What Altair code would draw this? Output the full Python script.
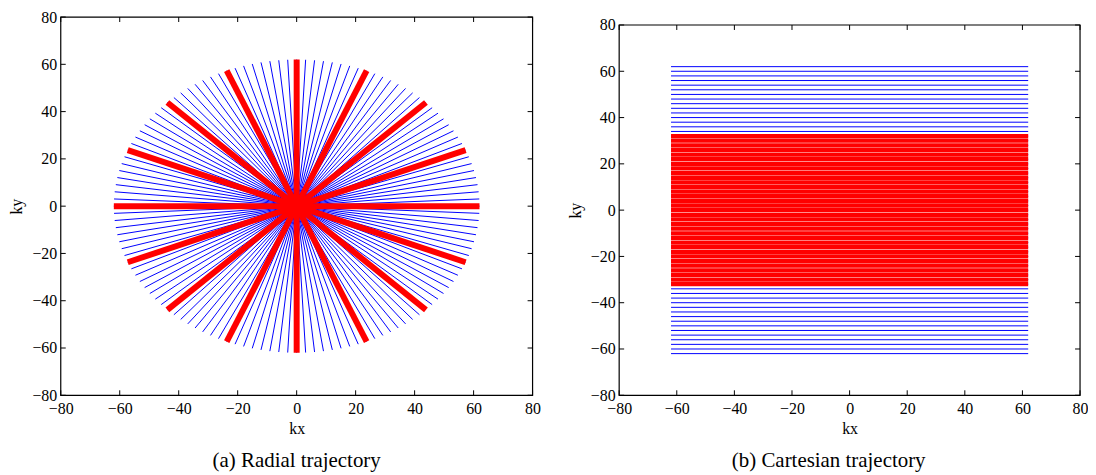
import altair as alt
import pandas as pd

# ---------------- data ----------------
RADIUS = 62
# blue spokes (full lines through the centre), angle in degrees
blue_angles = [0, 2.8125, 5.625, 8.4375, 11.25, 14.0625, 16.875, 19.6875,
               22.5, 25.3125, 28.125, 30.9375, 33.75, 36.5625, 39.375, 42.1875,
               45, 47.8125, 50.625, 53.4375, 56.25, 59.0625, 61.875, 64.6875,
               67.5, 70.3125, 73.125, 75.9375, 78.75, 81.5625, 84.375, 87.1875,
               90, 92.8125, 95.625, 98.4375, 101.25, 104.0625, 106.875, 109.6875,
               112.5, 115.3125, 118.125, 120.9375, 123.75, 126.5625, 129.375, 132.1875,
               135, 137.8125, 140.625, 143.4375, 146.25, 149.0625, 151.875, 154.6875,
               157.5, 160.3125, 163.125, 165.9375, 168.75, 171.5625, 174.375, 177.1875]
# red (highlighted) spokes
red_angles = [0, 22.5, 45, 67.5, 90, 112.5, 135, 157.5]

# cartesian rows
blue_rows = [-62, -60, -58, -56, -54, -52, -50, -48, -46, -44, -42, -40, -38, -36, -34, -32,
             -30, -28, -26, -24, -22, -20, -18, -16, -14, -12, -10, -8, -6, -4, -2, 0,
             2, 4, 6, 8, 10, 12, 14, 16, 18, 20, 22, 24, 26, 28, 30, 32,
             34, 36, 38, 40, 42, 44, 46, 48, 50, 52, 54, 56, 58, 60, 62]
red_rows = [-32, -30, -28, -26, -24, -22, -20, -18, -16, -14, -12, -10, -8, -6, -4, -2, 0,
            2, 4, 6, 8, 10, 12, 14, 16, 18, 20, 22, 24, 26, 28, 30, 32]
row_start = -62
row_end = 62

tick_values = [-80, -60, -40, -20, 0, 20, 40, 60, 80]
captions = ["(a) Radial trajectory", "(b) Cartesian trajectory"]

# ---------------- styling ----------------
FONT = "Liberation Serif"
BLUE = "#0000ff"
RED = "#ff0000"
H = 380                 # group height shared by both panels
W1, TOP1 = 474, 0       # left panel: plot from y=0 to H
W2, TOP2 = 463, 8       # right panel: plot from y=8 to H
TICK = 5


def xaxis():
    return alt.Axis(values=tick_values, ticks=False, domain=False, grid=False,
                    labelFont=FONT, labelFontSize=16, labelColor="black",
                    labelPadding=5, labelFlush=False, labelOverlap=False,
                    title="kx", titleFont=FONT, titleFontSize=16,
                    titleFontWeight="normal", titleColor="black", titlePadding=4)


def yaxis():
    return alt.Axis(values=tick_values, ticks=False, domain=False, grid=False,
                    labelFont=FONT, labelFontSize=16, labelColor="black",
                    labelPadding=4, labelFlush=False, labelOverlap=False,
                    title="ky", titleFont=FONT, titleFontSize=16,
                    titleFontWeight="normal", titleColor="black", titlePadding=7)


def xs():
    return alt.Scale(domain=[-80, 80], nice=False, zero=False)


def ys(top):
    return alt.Scale(domain=[-80, 80], nice=False, zero=False, range=[H, top])


def frame_layers(w, top):
    tdf = pd.DataFrame({"v": tick_values})
    base = alt.Chart(tdf).mark_rule(color="black", strokeWidth=1)
    bottom = base.encode(x=alt.X("v:Q", scale=xs(), axis=xaxis()),
                         y=alt.value(H), y2=alt.value(H - TICK))
    upper = base.encode(x=alt.X("v:Q", scale=xs(), axis=xaxis()),
                        y=alt.value(top), y2=alt.value(top + TICK))
    left = base.encode(y=alt.Y("v:Q", scale=ys(top), axis=yaxis()),
                       x=alt.value(0), x2=alt.value(TICK))
    right = base.encode(y=alt.Y("v:Q", scale=ys(top), axis=yaxis()),
                        x=alt.value(w), x2=alt.value(w - TICK))
    box = alt.Chart(pd.DataFrame({"v": [0]})).mark_rect(
        fill=None, stroke="black", strokeWidth=1.2
    ).encode(x=alt.value(0), x2=alt.value(w), y=alt.value(top), y2=alt.value(H))
    return [bottom, upper, left, right, box]


def spokes(angles, color, width, top):
    return alt.Chart(pd.DataFrame({"angle": angles})).transform_calculate(
        ax=f"-{RADIUS}*cos(datum.angle*PI/180)",
        ay=f"-{RADIUS}*sin(datum.angle*PI/180)",
        bx=f"{RADIUS}*cos(datum.angle*PI/180)",
        by=f"{RADIUS}*sin(datum.angle*PI/180)",
    ).mark_rule(color=color, strokeWidth=width).encode(
        x=alt.X("ax:Q", scale=xs(), axis=xaxis()),
        x2="bx:Q",
        y=alt.Y("ay:Q", scale=ys(top), axis=yaxis()),
        y2="by:Q",
    )


def rows(values, color, width, top):
    df = pd.DataFrame({"ky": values, "x0": row_start, "x1": row_end})
    return alt.Chart(df).mark_rule(color=color, strokeWidth=width).encode(
        x=alt.X("x0:Q", scale=xs(), axis=xaxis()),
        x2="x1:Q",
        y=alt.Y("ky:Q", scale=ys(top), axis=yaxis()),
    )


left_panel = alt.layer(
    spokes(blue_angles, BLUE, 1, TOP1),
    spokes(red_angles, RED, 6, TOP1),
    *frame_layers(W1, TOP1),
).properties(
    width=W1, height=H,
    title=alt.TitleParams(captions[0], orient="bottom", anchor="middle", font=FONT,
                          fontSize=21, fontWeight="normal", color="black", offset=14),
)

right_panel = alt.layer(
    rows(blue_rows, BLUE, 1, TOP2),
    rows(red_rows, RED, 4.3, TOP2),
    *frame_layers(W2, TOP2),
).properties(
    width=W2, height=H,
    title=alt.TitleParams(captions[1], orient="bottom", anchor="middle", font=FONT,
                          fontSize=21, fontWeight="normal", color="black", offset=14, dx=-21),
)

chart = alt.hconcat(left_panel, right_panel, spacing=26).properties(
    padding={"left": 0, "top": 0, "right": 0, "bottom": 0}
).configure(background="white").configure_view(stroke=None)

chart.save("out.html", embed_options={"renderer": "svg", "actions": False})
